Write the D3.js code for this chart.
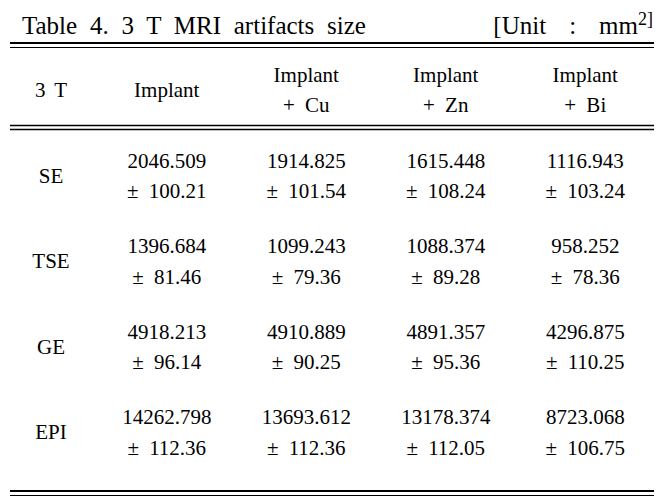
<!DOCTYPE html>
<html>
<head>
<meta charset="utf-8">
<script src="https://cdn.jsdelivr.net/npm/d3@7"></script>
<style>
  html, body { margin: 0; padding: 0; background: #fff; }
  svg { display: block; }
</style>
</head>
<body>
<script>
// ---------- data ----------
const titleText = "Table 4. 3 T MRI artifacts size";
const unitSup = "2]";
const headerFirst = "3 T";
const groups = ["Implant", "Implant + Cu", "Implant + Zn", "Implant + Bi"];
const sequences = ["SE", "TSE", "GE", "EPI"];

const meanSE  = [2046.509, 1914.825, 1615.448, 1116.943];
const sdSE    = [100.21, 101.54, 108.24, 103.24];
const meanTSE = [1396.684, 1099.243, 1088.374, 958.252];
const sdTSE   = [81.46, 79.36, 89.28, 78.36];
const meanGE  = [4918.213, 4910.889, 4891.357, 4296.875];
const sdGE    = [96.14, 90.25, 95.36, 110.25];
const meanEPI = [14262.798, 13693.612, 13178.374, 8723.068];
const sdEPI   = [112.36, 112.36, 112.05, 106.75];

const means = [meanSE, meanTSE, meanGE, meanEPI];
const sds = [sdSE, sdTSE, sdGE, sdEPI];

// ---------- layout ----------
const FONT = "Liberation Serif";
const W = 670, H = 500;
const left = 10, right = 654;
const svg = d3.select("body").append("svg").attr("width", W).attr("height", H);

const colX = d3.scaleBand().domain(groups).range([97, 655]);
const labelX = 51;
const rowY = d3.scaleBand().domain(sequences).range([133, 475]);
const lineGap = 30.5;
const capShift = 7;
const headerCenter = 90;
const fmtMean = d3.format(".3f");
const fmtSd = d3.format(".2f");

function txt(x, y, size, s, anchor) {
  const t = svg.append("text")
    .attr("x", x).attr("y", y)
    .attr("font-family", FONT)
    .attr("font-size", size);
  if (anchor !== "start") t.attr("text-anchor", "middle");
  return t.text(s);
}

// title
txt(22, 34, 25, titleText, "start").attr("word-spacing", 6.5);

const unit = svg.append("text")
  .attr("x", 653).attr("y", 34)
  .attr("text-anchor", "end")
  .attr("font-family", FONT)
  .attr("font-size", 25);
unit.append("tspan").text("[Unit");
unit.append("tspan").attr("dx", 23).text(":");
unit.append("tspan").attr("dx", 23).text("mm");
unit.append("tspan").attr("dy", -9).attr("font-size", 18).text(unitSup);

// rules
const rules = [
  { y: 43, w: 2 }, { y: 47.5, w: 1 },
  { y: 125.5, w: 1.3 }, { y: 129.5, w: 1.3 },
  { y: 491, w: 2 }, { y: 495.5, w: 1 }
];
svg.selectAll("line.rule").data(rules).join("line")
  .attr("class", "rule")
  .attr("x1", left).attr("x2", right)
  .attr("y1", d => d.y).attr("y2", d => d.y)
  .attr("stroke", "#000").attr("stroke-width", d => d.w);

// header
txt(labelX, headerCenter + capShift, 21, headerFirst).attr("word-spacing", 4);

groups.forEach(g => {
  const parts = g.split(" + ");
  const cx = colX(g) + colX.bandwidth() / 2;
  if (parts.length === 1) {
    txt(cx, headerCenter + capShift, 21, parts[0]);
  } else {
    txt(cx, headerCenter - lineGap / 2 + capShift, 21, parts[0]);
    txt(cx, headerCenter + lineGap / 2 + capShift, 21, "+ " + parts[1]).attr("word-spacing", 5);
  }
});

// body
sequences.forEach((s, i) => {
  const cy = rowY(s) + rowY.bandwidth() / 2;
  txt(labelX, cy + capShift, 21, s);
  groups.forEach((g, j) => {
    const cx = colX(g) + colX.bandwidth() / 2;
    txt(cx, cy - lineGap / 2 + capShift, 21, fmtMean(means[i][j]));
    txt(cx, cy + lineGap / 2 + capShift, 21, "\u00B1 " + fmtSd(sds[i][j])).attr("word-spacing", 5);
  });
});
</script>
</body>
</html>
